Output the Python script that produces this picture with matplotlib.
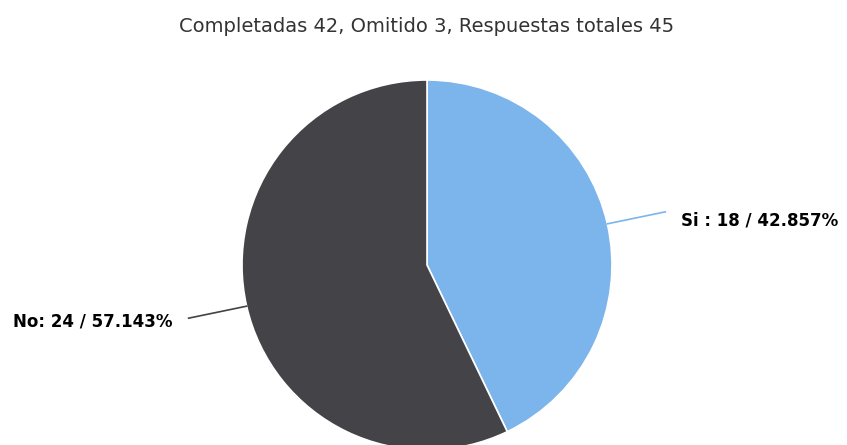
import math
import matplotlib
matplotlib.use("Agg")
import matplotlib.pyplot as plt

labels = ["Si", "No"]
counts = [18, 24]
colors = ["#7cb5ec", "#434348"]
title = "Completadas 42, Omitido 3, Respuestas totales 45"

W, H = 847, 445
fig = plt.figure(figsize=(W / 100, H / 100), dpi=100)
ax = fig.add_axes([0, 0, 1, 1])

cx, cy, r = 427, 180, 185
wedges, _ = ax.pie(counts, colors=colors, startangle=90, counterclock=False,
                   center=(cx, cy), radius=r, frame=True,
                   wedgeprops=dict(edgecolor="white", linewidth=1.2))
ax.set_xlim(0, W)
ax.set_ylim(0, H)
ax.set_aspect("equal")
ax.axis("off")

total = sum(counts)
for i, w in enumerate(wedges):
    ang = math.radians((w.theta1 + w.theta2) / 2)
    x0 = cx + r * math.cos(ang)
    y0 = cy + r * math.sin(ang)
    side = 1 if math.cos(ang) > 0 else -1
    x1 = x0 + side * 58
    y1 = y0 + (12 if side > 0 else -12)
    ax.plot([x0, x1], [y0, y1], color=colors[i], lw=1.2)
    pct = counts[i] / total * 100
    sep = " : " if side > 0 else ": "
    txt = "%s%s%d / %.3f%%" % (labels[i], sep, counts[i], pct)
    ax.text(x1 + side * 16, y1 - (9 if side > 0 else 3), txt, ha="left" if side > 0 else "right",
            va="center", fontsize=12, fontweight="bold", color="#000000")

fig.text(427 / W, 1 - 27 / H, title, ha="center", va="center", fontsize=14, color="#333333")

fig.savefig("out.png", dpi=100)
